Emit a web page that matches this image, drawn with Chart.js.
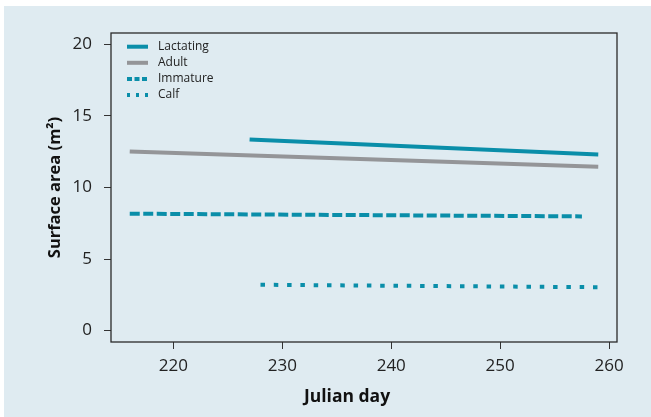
<!DOCTYPE html>
<html>
<head>
<meta charset="utf-8">
<script src="https://cdn.jsdelivr.net/npm/chart.js@4.4.0/dist/chart.umd.min.js"></script>
<style>
html, body { margin: 0; padding: 0; background: #fff; }
#wrap { width: 651px; height: 417px; }
</style>
</head>
<body>
<div id="wrap"><canvas id="myChart" width="651" height="417"></canvas></div>
<script>
// data
var seriesNames = ["Lactating", "Adult", "Immature", "Calf"];
var lactDays = [227, 259];
var lactArea = [13.35, 12.3];
var adultDays = [216, 259];
var adultArea = [12.52, 11.45];
var immDays = [216, 257.5];
var immArea = [8.17, 7.98];
var calfDays = [228, 259];
var calfArea = [3.2, 3.03];
var xTicks = [220, 230, 240, 250, 260];
var yTicks = [0, 5, 10, 15, 20];
var xTitle = "Julian day";
var yTitle = "Surface area (m²)";

var teal = "#0a8ea9";
var grey = "#949598";

function pts(days, vals) {
  var out = [];
  for (var i = 0; i < days.length; i++) out.push({ x: days[i], y: vals[i] });
  return out;
}

// background panel, plot box, x title and the legend in the top left corner
var panel = {
  id: 'panel',
  beforeDraw: function(chart) {
    var c = chart.ctx;
    c.save();
    c.fillStyle = "#ffffff";
    c.fillRect(0, 0, chart.width, chart.height);
    c.fillStyle = "#dfebf1";
    c.fillRect(4, 6, chart.width - 4, chart.height - 6);
    c.restore();
  },
  afterDraw: function(chart) {
    var a = chart.chartArea;
    var c = chart.ctx;
    c.save();
    c.strokeStyle = "#2a2a2a";
    c.lineWidth = 1.3;
    c.strokeRect(a.left, a.top, a.right - a.left, a.bottom - a.top);

    // x axis title, sits a bit left of the plot centre in the original
    c.font = "bold 17.5px 'Open Sans', sans-serif";
    c.fillStyle = '#111';
    c.textAlign = 'center';
    c.textBaseline = 'middle';
    c.fillText(xTitle, 347, 397);

    // legend
    c.font = "12px 'Open Sans', sans-serif";
    c.textAlign = 'left';
    chart.data.datasets.forEach(function(ds, i) {
      var y = a.top + 13.7 + i * 16.1;
      c.beginPath();
      c.setLineDash(ds.legendDash);
      c.lineCap = 'butt';
      c.strokeStyle = ds.borderColor;
      c.lineWidth = ds.borderWidth;
      c.moveTo(a.left + 16, y);
      c.lineTo(a.left + 37, y);
      c.stroke();
      c.setLineDash([]);
      c.fillStyle = '#222';
      c.fillText(ds.label, a.left + 47, y);
    });
    c.restore();
  }
};

var tickFont = { family: "'Open Sans', sans-serif", size: 17 };
var titleFont = { family: "'Open Sans', sans-serif", size: 16.5, weight: 'bold' };

var canvas = document.getElementById('myChart');
var myChart = new Chart(canvas, {
  type: 'scatter',
  data: {
    datasets: [{
      label: seriesNames[0],
      data: pts(lactDays, lactArea),
      borderColor: teal, backgroundColor: teal,
      borderWidth: 4, borderDash: [], legendDash: []
    }, {
      label: seriesNames[1],
      data: pts(adultDays, adultArea),
      borderColor: grey, backgroundColor: grey,
      borderWidth: 4, borderDash: [], legendDash: []
    }, {
      label: seriesNames[2],
      data: pts(immDays, immArea),
      borderColor: teal, backgroundColor: teal,
      borderWidth: 4, borderDash: [10, 3.5], legendDash: [5, 2.5]
    }, {
      label: seriesNames[3],
      data: pts(calfDays, calfArea),
      borderColor: teal, backgroundColor: teal,
      borderWidth: 4, borderDash: [4.5, 8.8], legendDash: [3, 6]
    }]
  },
  options: {
    responsive: false,
    animation: false,
    showLine: true,
    elements: { point: { radius: 0, hoverRadius: 0 }, line: { borderCapStyle: 'butt' } },
    layout: { padding: { left: 0, top: 33, right: 34, bottom: 0 } },
    plugins: {
      tooltip: { enabled: false },
      legend: { display: false }
    },
    scales: {
      x: {
        type: 'linear',
        min: 214.28,
        max: 260.72,
        afterBuildTicks: function(s) { s.ticks = xTicks.map(function(v) { return { value: v }; }); },
        afterFit: function(s) { s.height = 75; },
        border: { display: false },
        grid: { drawOnChartArea: false, drawTicks: true, tickLength: 7, color: '#333', lineWidth: 1 },
        ticks: { color: '#222', font: tickFont, padding: 7, maxRotation: 0 },
        title: { display: false }
      },
      y: {
        type: 'linear',
        min: -0.8,
        max: 20.8,
        afterBuildTicks: function(s) { s.ticks = yTicks.map(function(v) { return { value: v }; }); },
        afterFit: function(s) { s.width = 111; },
        border: { display: false },
        grid: { drawOnChartArea: false, drawTicks: true, tickLength: 7, color: '#333', lineWidth: 1 },
        ticks: { color: '#222', font: tickFont, padding: 12 },
        title: { display: true, text: yTitle, color: '#111', font: titleFont, padding: { top: 45, bottom: 0 } }
      }
    }
  },
  plugins: [panel]
});
</script>
</body>
</html>
